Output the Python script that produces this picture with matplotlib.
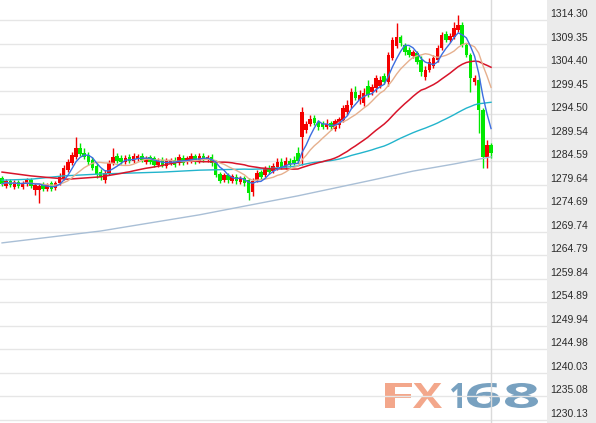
import numpy as np
import pandas as pd
import matplotlib
matplotlib.use('Agg')
import matplotlib.pyplot as plt
import matplotlib.transforms as mtransforms
from matplotlib.patches import PathPatch
from matplotlib.textpath import TextPath
from matplotlib.font_manager import FontProperties

# candles (120 bars, oldest first)
opens = [1281.1, 1279.4, 1280.4, 1279.2, 1280.2, 1279.2, 1279.8, 1280.6, 1278.5, 1278.5,
         1279.8, 1278.7, 1280.0, 1279.0, 1280.0, 1281.1, 1282.7, 1284.2, 1285.5, 1287.4,
         1286.3, 1285.9, 1284.9, 1283.6, 1282.3, 1280.6, 1282.1, 1284.2, 1285.7, 1285.3,
         1284.4, 1285.5, 1284.6, 1285.1, 1285.7, 1284.4, 1285.5, 1285.3, 1283.8, 1284.9,
         1283.6, 1284.2, 1284.9, 1284.2, 1285.3, 1284.4, 1284.6, 1285.7, 1284.6, 1285.7,
         1284.9, 1285.5, 1284.2, 1281.9, 1280.6, 1281.7, 1280.4, 1281.3, 1280.2, 1281.1,
         1280.6, 1278.1, 1280.6, 1282.3, 1281.7, 1283.2, 1282.5, 1283.4, 1284.4, 1283.4,
         1284.6, 1284.9, 1286.3, 1289.7, 1291.2, 1292.4, 1293.7, 1292.8, 1292.6, 1291.8,
         1292.6, 1291.4, 1292.2, 1293.3, 1295.0, 1296.4, 1299.2, 1297.5, 1296.8, 1300.4,
         1299.2, 1300.0, 1300.4, 1302.5, 1301.3, 1306.3, 1308.8, 1310.7, 1309.0, 1308.0,
         1306.7, 1307.4, 1305.9, 1302.3, 1303.8, 1304.6, 1305.9, 1308.4, 1311.4, 1310.1,
         1310.7, 1312.2, 1313.3, 1309.0, 1306.9, 1301.3, 1301.7, 1295.4, 1285.5, 1288.0]
closes = [1279.8, 1280.4, 1279.6, 1280.2, 1279.4, 1280.0, 1280.6, 1279.4, 1279.6, 1279.4,
          1278.7, 1279.6, 1278.7, 1280.0, 1281.5, 1283.2, 1284.4, 1285.9, 1287.4, 1286.1,
          1285.5, 1284.4, 1283.2, 1281.9, 1281.3, 1282.1, 1284.2, 1285.5, 1284.6, 1284.4,
          1285.3, 1284.6, 1285.7, 1285.7, 1284.9, 1285.3, 1284.4, 1283.8, 1284.6, 1283.8,
          1284.9, 1284.9, 1283.8, 1285.5, 1284.2, 1285.3, 1285.7, 1284.4, 1285.7, 1284.9,
          1285.5, 1284.2, 1281.7, 1280.4, 1281.7, 1280.6, 1281.5, 1280.4, 1281.1, 1280.0,
          1277.9, 1280.4, 1282.1, 1281.3, 1283.0, 1282.3, 1283.6, 1284.4, 1283.4, 1284.6,
          1283.8, 1284.2, 1284.6, 1294.9, 1292.4, 1293.5, 1292.6, 1291.8, 1291.8, 1292.4,
          1291.8, 1293.1, 1293.5, 1295.8, 1296.4, 1299.2, 1297.9, 1298.5, 1298.9, 1298.5,
          1300.2, 1302.1, 1301.7, 1301.3, 1306.9, 1310.1, 1310.7, 1309.5, 1307.6, 1306.9,
          1307.6, 1305.5, 1303.4, 1303.8, 1305.5, 1306.3, 1308.4, 1311.1, 1310.1, 1310.9,
          1312.6, 1313.3, 1309.0, 1306.9, 1302.1, 1302.1, 1295.4, 1285.5, 1288.0, 1286.3]
highs = [1281.5, 1280.9, 1280.9, 1280.6, 1280.6, 1280.4, 1281.1, 1281.1, 1280.0, 1279.8,
         1280.2, 1280.0, 1280.4, 1280.4, 1282.1, 1283.8, 1285.1, 1286.5, 1289.7, 1288.4,
         1287.4, 1286.5, 1285.5, 1284.2, 1283.0, 1282.7, 1284.9, 1287.4, 1286.3, 1285.9,
         1285.9, 1286.1, 1286.3, 1286.1, 1286.3, 1285.7, 1285.9, 1285.7, 1285.3, 1285.5,
         1285.3, 1285.3, 1285.5, 1286.1, 1285.9, 1285.7, 1286.3, 1286.1, 1286.3, 1286.3,
         1285.9, 1286.1, 1284.9, 1282.3, 1282.1, 1282.1, 1281.9, 1281.9, 1281.5, 1281.5,
         1281.1, 1281.1, 1282.7, 1282.7, 1283.6, 1283.8, 1284.2, 1285.3, 1285.3, 1285.5,
         1285.3, 1285.7, 1287.6, 1296.0, 1293.0, 1294.3, 1294.3, 1293.3, 1293.1, 1293.5,
         1293.1, 1293.5, 1293.9, 1296.4, 1297.5, 1300.0, 1300.4, 1299.6, 1300.0, 1301.7,
         1300.8, 1302.7, 1302.5, 1303.2, 1307.6, 1310.7, 1313.7, 1311.2, 1309.5, 1308.6,
         1308.0, 1307.8, 1306.7, 1304.6, 1306.3, 1306.9, 1309.0, 1311.8, 1312.0, 1311.6,
         1313.9, 1315.4, 1313.9, 1309.5, 1307.4, 1302.7, 1302.1, 1295.8, 1289.1, 1288.4]
lows = [1279.4, 1279.0, 1279.2, 1278.7, 1279.0, 1278.7, 1279.4, 1279.0, 1277.5, 1275.8,
        1278.3, 1278.3, 1278.3, 1278.5, 1279.6, 1280.6, 1282.3, 1283.8, 1285.1, 1285.7,
        1285.1, 1283.8, 1282.7, 1281.1, 1280.6, 1280.0, 1281.7, 1283.8, 1284.2, 1284.0,
        1284.0, 1284.2, 1284.2, 1284.6, 1284.4, 1284.0, 1284.0, 1283.4, 1283.4, 1283.4,
        1283.2, 1283.8, 1283.4, 1283.8, 1283.8, 1284.0, 1284.2, 1284.0, 1284.2, 1284.4,
        1284.4, 1283.6, 1281.3, 1280.0, 1280.2, 1280.0, 1280.0, 1279.8, 1279.8, 1279.4,
        1276.4, 1277.3, 1280.2, 1280.9, 1281.3, 1281.9, 1282.1, 1282.7, 1283.0, 1283.0,
        1283.4, 1283.8, 1284.2, 1283.8, 1290.5, 1292.0, 1292.2, 1291.2, 1291.4, 1291.4,
        1291.2, 1291.0, 1291.6, 1292.8, 1294.3, 1295.8, 1297.5, 1296.6, 1296.2, 1298.1,
        1298.5, 1299.2, 1300.0, 1300.8, 1300.4, 1305.9, 1308.4, 1308.8, 1306.9, 1306.5,
        1306.3, 1305.0, 1302.5, 1301.7, 1303.4, 1304.2, 1305.5, 1308.0, 1309.7, 1309.7,
        1310.3, 1311.8, 1308.6, 1306.5, 1299.2, 1300.6, 1290.5, 1283.2, 1283.2, 1285.3]

# averages before enough bars are on screen
ma30_head_idx = [0, 7, 12, 16, 24]
ma30_head = [1282.3, 1281.5, 1281.1, 1280.8, 1281.3]
ma60_head_idx = [0, 7, 15, 24, 39, 48]
ma60_head = [1280.6, 1280.8, 1281.5, 1281.9, 1282.3, 1282.7]
# long-term average line, sampled
long_idx = [0, 24, 48, 72, 90, 100, 110, 119]
long_ma = [1267.4, 1269.9, 1273.3, 1277.3, 1280.6, 1282.5, 1284.0, 1285.5]

tick_labels = ['1230.13', '1235.08', '1240.03', '1244.98', '1249.94', '1254.89',
               '1259.84', '1264.79', '1269.74', '1274.69', '1279.64', '1284.59',
               '1289.54', '1294.50', '1299.45', '1304.40', '1309.35', '1314.30']

df = pd.DataFrame({'open': opens, 'close': closes, 'high': highs, 'low': lows})
n = len(df)
idx = np.arange(n)
df['ma5'] = df['close'].rolling(5, min_periods=1).mean()
df['ma10'] = df['close'].rolling(10, min_periods=1).mean()
df['ma30'] = df['close'].rolling(30).mean()
df['ma60'] = df['close'].rolling(60).mean()

W, H = 596, 423
fig = plt.figure(figsize=(W / 100, H / 100), dpi=100)
fig.patch.set_facecolor('white')
plot_w = 547
ax = fig.add_axes([0, 0, plot_w / W, 1])
ax.set_facecolor('none')
ylim = (1229.50, 1318.51)
ax.set_ylim(*ylim)
ax.set_xlim(-0.5, -0.5 + plot_w / 4.109)
for s in ax.spines.values():
    s.set_visible(False)
ax.set_xticks([])
ax.set_yticks([])

# grid
tick_vals = [float(t) for t in tick_labels]
for v in tick_vals:
    ax.axhline(v, color='#e6e6e6', lw=1, zorder=1)
ax.axvline(n - 1, color='#dadada', lw=1, zorder=1)

# candles
o = df['open'].values
c = df['close'].values
cols = np.where(c >= o, '#f40000', '#00e800')
ax.vlines(idx, df['low'], df['high'], colors=cols, lw=1.0, zorder=2)
body = np.maximum(np.abs(c - o), 0.2)
ax.bar(idx, body, bottom=np.minimum(o, c), width=0.86, color=cols, linewidth=0, zorder=3)

# moving averages
ax.plot(long_idx, long_ma, color='#a9bfd6', lw=1.0, zorder=4)
ax.plot(ma60_head_idx + list(idx[59:]), ma60_head + list(df['ma60'].values[59:]),
        color='#22b4cc', lw=1.0, zorder=4)
ax.plot(ma30_head_idx + list(idx[29:]), ma30_head + list(df['ma30'].values[29:]),
        color='#d8142a', lw=1.1, zorder=4)
ax.plot(idx, df['ma10'], color='#e6b08e', lw=1.0, zorder=5)
ax.plot(idx, df['ma5'], color='#3c6ee0', lw=1.0, zorder=5)

# price scale panel
side = fig.add_axes([plot_w / W, 0, (W - plot_w) / W, 1])
side.set_facecolor('#ebebeb')
side.set_ylim(*ylim)
side.set_xticks([])
side.set_yticks([])
for s in side.spines.values():
    s.set_visible(False)
trans = mtransforms.offset_copy(side.get_yaxis_transform(), fig=fig, y=6, units='dots')
for v, t in zip(tick_vals, tick_labels):
    side.text(0.07, v, t, transform=trans, ha='left', va='center',
              fontsize=7.5, family='Liberation Sans', color='#2b2b2b')

# FX168 watermark
wm_font = FontProperties(family='Open Sans', weight='bold')
wm_chars = ['F', 'X', '1', '6', '8']
wm_left = [385, 413, 451, 467, 505]
wm_right = [412, 442, 462, 500, 538]
wm_cols = ['#f3a78b', '#f3a78b', '#78a1c0', '#78a1c0', '#78a1c0']
for ch, x0, x1, col in zip(wm_chars, wm_left, wm_right, wm_cols):
    tp = TextPath((0, 0), ch, size=10, prop=wm_font)
    bb = tp.get_extents()
    tr = (mtransforms.Affine2D().translate(-bb.x0, -bb.y0)
          .scale((x1 - x0) / bb.width, 25 / bb.height).translate(x0, H - 408))
    fig.add_artist(PathPatch(tp, transform=tr, fc=col, ec='none', zorder=-1))

fig.savefig('out.png', dpi=100)
